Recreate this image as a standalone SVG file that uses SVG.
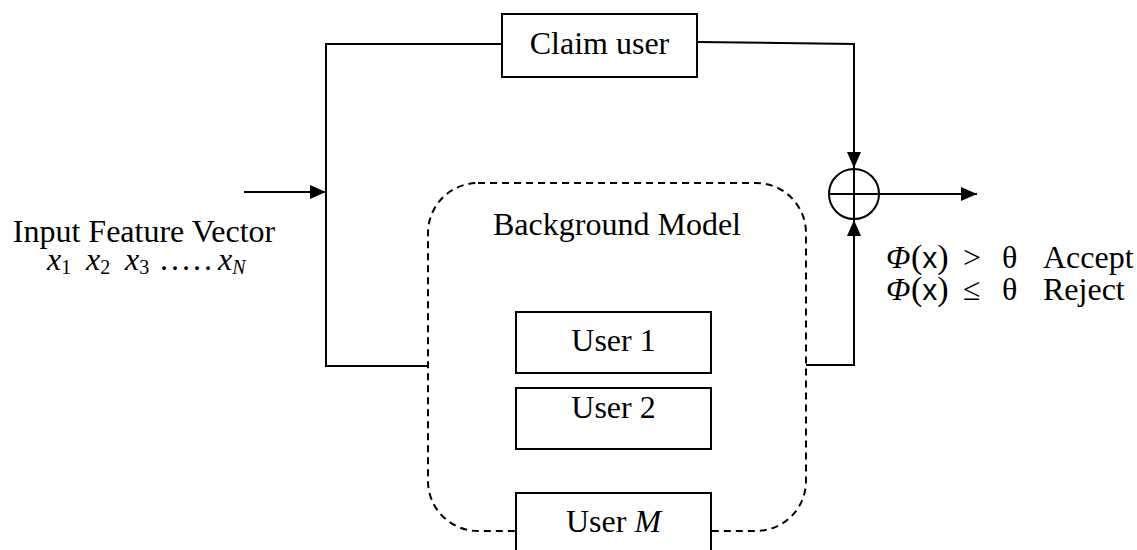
<svg xmlns="http://www.w3.org/2000/svg" width="1137" height="550" viewBox="0 0 1137 550">
<style>
.box{fill:#fff;stroke:#000;stroke-width:2}
.ln{fill:none;stroke:#000;stroke-width:2}
.dash{fill:none;stroke:#000;stroke-width:2;stroke-dasharray:7 5}
.t{font-family:"Liberation Serif","Times New Roman",serif;font-size:32px;fill:#000}
.m{font-family:"Liberation Serif","DejaVu Serif",serif;font-size:32px;fill:#000}
.i{font-style:italic}
.sub{font-size:20px}
.sx{font-family:"Liberation Sans","DejaVu Sans",sans-serif}
</style>
<defs>
<marker id="arr" markerUnits="userSpaceOnUse" markerWidth="16" markerHeight="14" refX="16" refY="7" orient="auto">
<path d="M0,0 L16,7 L0,14 z" fill="#000"/>
</marker>
</defs>
<rect width="1137" height="550" fill="#fff"/>
<g id="background-model">
<rect class="dash" x="428" y="183" width="378" height="348" rx="50" ry="50"/>
<text class="t" x="617" y="235" text-anchor="middle">Background Model</text>
</g>
<g id="connectors">
<path class="ln" d="M244,192 L326,192" marker-end="url(#arr)"/>
<path class="ln" d="M502,44 L326,44 L326,366 L428,366"/>
<path class="ln" d="M697,42 L854,44 L854,168" marker-end="url(#arr)"/>
<path class="ln" d="M806,365 L854,365 L854,220" marker-end="url(#arr)"/>
<path class="ln" d="M879,194 L977,194" marker-end="url(#arr)"/>
</g>
<g id="claim-user">
<rect class="box" x="502" y="14" width="195" height="63"/>
<text class="t" x="599.5" y="54" text-anchor="middle">Claim user</text>
</g>
<g id="sum">
<circle class="ln" cx="854" cy="194" r="25"/>
<path class="ln" d="M829,194 L879,194 M854,169 L854,219"/>
</g>
<g id="user1">
<rect class="box" x="516" y="312" width="195" height="61"/>
<text class="t" x="613.5" y="351" text-anchor="middle">User 1</text>
</g>
<g id="user2">
<rect class="box" x="516" y="388" width="195" height="61"/>
<text class="t" x="613.5" y="418" text-anchor="middle">User 2</text>
</g>
<g id="userM">
<rect class="box" x="516" y="493" width="195" height="70"/>
<text class="t" x="613.5" y="532" text-anchor="middle">User <tspan class="i">M</tspan></text>
</g>
<g id="input-label">
<text class="t" x="144" y="242" text-anchor="middle">Input Feature Vector</text>
<text class="m" y="270"><tspan class="i" x="47">x</tspan><tspan class="sub" dy="4">1</tspan><tspan class="i" x="86" dy="-4">x</tspan><tspan class="sub" dy="4">2</tspan><tspan class="i" x="125" dy="-4">x</tspan><tspan class="sub" dy="4">3</tspan><tspan x="160" dy="-4" letter-spacing="3">.....</tspan><tspan class="i" x="218">x</tspan><tspan class="sub i" dy="4">N</tspan></text>
</g>
<g id="decision-label">
<text class="m" y="268"><tspan class="i" x="886">Φ</tspan><tspan x="911" font-size="34">(</tspan><tspan class="sx" font-size="30">x</tspan><tspan font-size="34">)</tspan><tspan x="963">&gt;</tspan><tspan x="1002">θ</tspan><tspan x="1043">Accept</tspan></text>
<text class="m" y="300"><tspan class="i" x="886">Φ</tspan><tspan x="911" font-size="34">(</tspan><tspan class="sx" font-size="30">x</tspan><tspan font-size="34">)</tspan><tspan x="963">≤</tspan><tspan x="1002">θ</tspan><tspan x="1043">Reject</tspan></text>
</g>
</svg>
